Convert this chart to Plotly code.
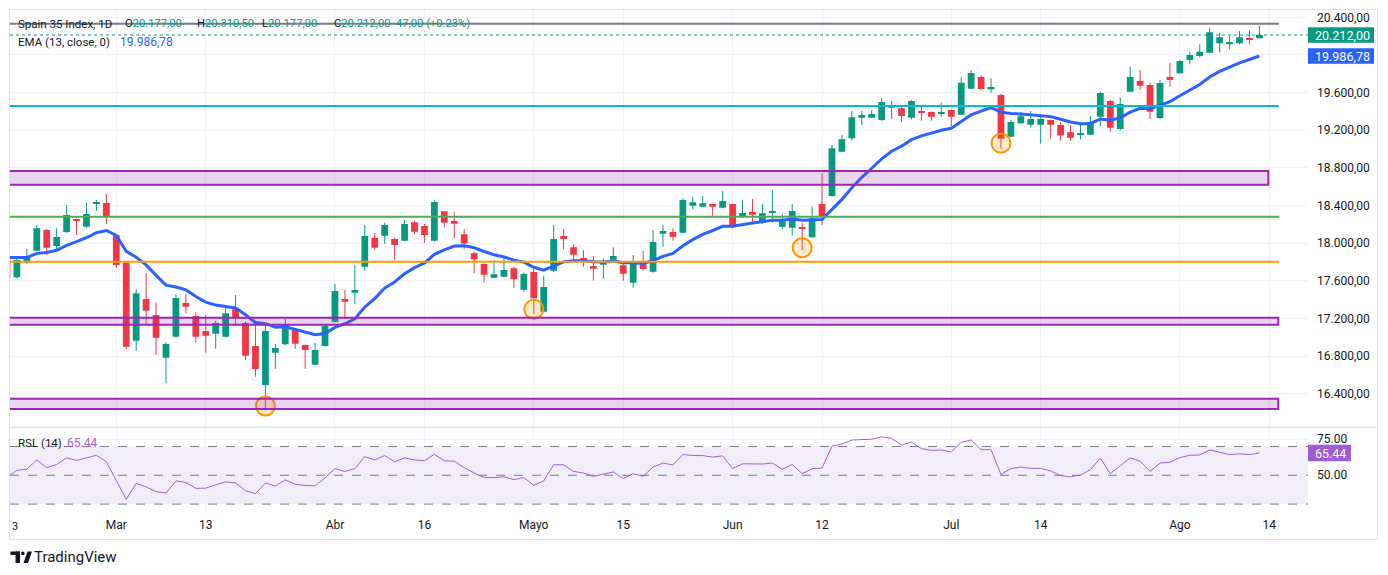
import plotly.graph_objects as go

# ---------------- data ----------------
idx = list(range(-1, 126))  # trading-day index; 10 = 2 Mar, 125 = 13 Aug
opens = [17822, 17639, 17794, 17921, 18141, 17971, 18120, 18255, 18176, 18420, 18428,
         18088, 17794, 16966, 17408, 17238, 16785, 17008, 17366, 17228, 17068,
         17040, 17008, 17299, 17153, 16909, 16495, 16838, 16927, 17079, 16920,
         16711, 16909, 17167, 17408, 17475, 17751, 18056, 18081, 18045, 18027,
         18223, 18184, 18027, 18340, 18237, 18095, 17893, 17780, 17634, 17645,
         17734, 17507, 17695, 17273, 17709, 18077, 17957, 17844, 17759, 17772,
         17826, 17766, 17581, 17808, 17698, 18102, 18120, 18112, 18399, 18388,
         18417, 18378, 18417, 18282, 18332, 18219, 18322, 18176, 18165, 18165,
         18064, 18417, 18502, 18973, 19115, 19334, 19334, 19309, 19440, 19434,
         19334, 19405, 19394, 19375, 19416, 19366, 19642, 19766, 19635, 19575,
         19132, 19274, 19260, 19260, 19309, 19256, 19178, 19152, 19153, 19344,
         19511, 19214, 19610, 19723, 19681, 19330, 19766, 19805, 19947, 19989,
         20024, 20124, 20113, 20124, 20170, 20177]
highs = [17850, 17865, 17939, 18194, 18150, 18159, 18407, 18262, 18431, 18460, 18523,
         18098, 17800, 17514, 17681, 17373, 16949, 17458, 17458, 17267, 17235,
         17175, 17316, 17451, 17167, 17143, 17151, 16930, 17196, 17090, 16925,
         16941, 17143, 17568, 17504, 17769, 18194, 18112, 18219, 18060, 18247,
         18240, 18205, 18460, 18345, 18329, 18152, 17910, 17785, 17822, 17847,
         17751, 17688, 17734, 17653, 18194, 18152, 17989, 17929, 17865, 17840,
         17957, 17804, 17876, 17918, 18141, 18194, 18159, 18478, 18495, 18502,
         18420, 18555, 18420, 18460, 18470, 18417, 18566, 18318, 18417, 18219,
         18389, 18743, 19044, 19150, 19405, 19405, 19415, 19543, 19511, 19469,
         19520, 19465, 19400, 19493, 19420, 19763, 19840, 19787, 19752, 19585,
         19309, 19397, 19405, 19362, 19315, 19288, 19256, 19267, 19352, 19610,
         19522, 19550, 19875, 19840, 19705, 19734, 19918, 19946, 20035, 20113,
         20290, 20236, 20201, 20254, 20262, 20310.5]
lows = [17600, 17628, 17783, 17915, 17876, 17929, 18110, 18088, 18165, 18346, 18205,
        17741, 16877, 16859, 17143, 16814, 16513, 17000, 17256, 16944, 16838,
        16880, 17000, 17143, 16760, 16583, 16222, 16665, 16920, 16880, 16665,
        16705, 16902, 17160, 17203, 17355, 17709, 17929, 17993, 17822, 18020,
        18098, 18006, 18017, 18170, 18053, 17939, 17681, 17581, 17630, 17640,
        17528, 17486, 17249, 17265, 17695, 17936, 17822, 17751, 17603, 17624,
        17820, 17603, 17528, 17716, 17690, 17964, 18027, 18105, 18361, 18385,
        18293, 18370, 18159, 18275, 18212, 18210, 18223, 18152, 18081, 17929,
        18055, 18194, 18495, 18970, 19090, 19256, 19330, 19300, 19320, 19291,
        19317, 19302, 19302, 19344, 19245, 19360, 19635, 19628, 19599, 19004,
        19125, 19270, 19232, 19058, 19111, 19090, 19090, 19104, 19150, 19245,
        19185, 19196, 19605, 19628, 19320, 19320, 19663, 19800, 19901, 19975,
        20018, 20024, 20060, 20113, 20113, 20177]
closes = [17631, 17822, 17865, 18159, 17953, 18067, 18300, 18245, 18311, 18430, 18282,
          17769, 16902, 17469, 17284, 16997, 16930, 17419, 17327, 17008, 17018,
          17153, 17257, 17210, 16806, 16665, 17068, 16888, 17132, 16933, 16867,
          16867, 17125, 17493, 17380, 17504, 18077, 17953, 18194, 17982, 18205,
          18123, 18088, 18438, 18219, 18208, 17999, 17830, 17666, 17671, 17716,
          17617, 17674, 17416, 17536, 18045, 18045, 17879, 17826, 17730, 17798,
          17865, 17677, 17804, 17727, 18014, 18130, 18070, 18460, 18435, 18424,
          18388, 18449, 18176, 18322, 18304, 18318, 18343, 18233, 18343, 18155,
          18265, 18282, 19009, 19104, 19338, 19362, 19373, 19500, 19462, 19352,
          19511, 19387, 19344, 19385, 19344, 19705, 19808, 19638, 19660, 19111,
          19288, 19349, 19320, 19320, 19260, 19146, 19121, 19162, 19288, 19596,
          19228, 19479, 19766, 19673, 19397, 19702, 19734, 19936, 20000, 20035,
          20241, 20188, 20138, 20188, 20165, 20212]
rsi = [48.7, 53.4, 54.3, 60.7, 55.3, 57.5, 62.1, 60.3, 62.1, 63.9, 59.4,
       46.6, 33.3, 44.3, 42.0, 38.6, 37.7, 46.1, 45.0, 40.9, 41.1,
       43.4, 45.4, 44.7, 39.3, 37.2, 44.7, 42.5, 46.8, 43.8, 42.9,
       42.7, 48.2, 54.6, 52.7, 54.6, 63.0, 60.7, 63.7, 59.4, 62.1,
       60.7, 60.1, 64.6, 60.1, 59.8, 55.3, 51.6, 48.4, 48.4, 48.9,
       47.0, 48.4, 43.1, 46.1, 57.3, 57.3, 52.7, 51.6, 49.3, 50.9,
       52.3, 47.7, 51.1, 49.3, 55.7, 58.5, 57.1, 64.4, 63.7, 63.7,
       62.6, 63.5, 54.6, 58.0, 57.8, 57.8, 58.5, 54.3, 57.5, 51.1,
       54.6, 55.0, 70.3, 71.7, 74.5, 74.9, 75.1, 76.7, 75.6, 71.0,
       73.1, 68.5, 67.4, 67.6, 66.2, 72.9, 74.5, 67.8, 67.8, 50.7,
       54.6, 55.7, 54.8, 54.8, 53.0, 49.8, 48.9, 50.2, 53.9, 61.9,
       51.1, 56.6, 62.1, 59.8, 52.7, 58.5, 59.1, 62.3, 63.9, 64.1,
       67.6, 66.0, 64.4, 64.9, 64.4, 65.44]
ema_start = 17850  # EMA(13) value on the first bar shown

tick_idx = [10, 19, 32, 41, 52, 61, 72, 81, 94, 103, 117, 126]
tick_txt = ["Mar", "13", "Abr", "16", "Mayo", "15", "Jun", "12", "Jul", "14", "Ago", "14"]
price_ticks = [16400, 16800, 17200, 17600, 18000, 18400, 18800, 19200, 19600, 20000, 20400]
rsi_ticks = [75, 50]

gray_level = 20332
cyan_level = 19458
green_level = 18282
orange_level = 17804
zones = [(18622, 18768), (17135, 17210), (16240, 16350)]
zone_end = [125.9, 126.9, 126.9]
line_end = 126.95
circle_x = [25, 52, 79, 99]
circle_y = [16272, 17299, 17953, 19062]

last_close = 20212
last_ema_txt = "19.986,78"
last_rsi_txt = "65.44"

# ---------------- layout helpers (page pixel coords; page body has 8px margin) ----------------
OFF = 8
W, H = 1388 - 2 * OFF, 575 - 2 * OFF
L, R, T, B = 10, 1308, 10, 512      # plot area in page pixels
X0 = -0.694
X1 = 129.89
PMIN, PMAX = 16045.8, 20477.5

def px(x):
    return (x - L) / (R - L)

def py(y):
    return (B - y) / (B - T)

def fmt_es(v):
    s = f"{v:,.2f}"
    return s.replace(",", "X").replace(".", ",").replace("X", ".")

UP, DN = "#089981", "#f23645"
FONT = "Roboto, Arial, sans-serif"
TXT = "#131722"

# EMA 13 from closes
ema = [ema_start]
a = 2 / 14
for c in closes[1:]:
    ema.append(ema[-1] + a * (c - ema[-1]))

fig = go.Figure()

# wicks
for col, cond in ((UP, True), (DN, False)):
    wx, wy = [], []
    for i, o, h, l, c in zip(idx, opens, highs, lows, closes):
        if (c >= o) == cond:
            wx += [i, i, None]
            wy += [l, h, None]
    fig.add_trace(go.Scatter(x=wx, y=wy, mode="lines", line=dict(color=col, width=1),
                             hoverinfo="skip", showlegend=False, xaxis="x", yaxis="y"))

# bodies
base = [min(o, c) for o, c in zip(opens, closes)]
hgt = [max(abs(c - o), 9) for o, c in zip(opens, closes)]
cols = [UP if c >= o else DN for o, c in zip(opens, closes)]
fig.add_trace(go.Bar(x=idx, y=hgt, base=base, width=0.68, marker=dict(color=cols, line=dict(width=0)),
                     hoverinfo="skip", showlegend=False, xaxis="x", yaxis="y"))

# EMA
fig.add_trace(go.Scatter(x=idx, y=ema, mode="lines", line=dict(color="#2962ff", width=3),
                         hoverinfo="skip", showlegend=False, xaxis="x", yaxis="y"))

# circles
fig.add_trace(go.Scatter(x=circle_x, y=circle_y, mode="markers",
                         marker=dict(size=19, color="rgba(255,152,0,0.2)",
                                     line=dict(color="#ff9800", width=2)),
                         hoverinfo="skip", showlegend=False, xaxis="x", yaxis="y"))

# RSI
RSI_COL = "#a35fd2"
fig.add_trace(go.Scatter(x=idx, y=rsi, mode="lines", line=dict(color=RSI_COL, width=1),
                         hoverinfo="skip", showlegend=False, xaxis="x2", yaxis="y2"))

shapes = []
shapes.append(dict(type="rect", xref="paper", yref="y2", x0=0, x1=1, y0=30, y1=70,
                   fillcolor="rgba(126,87,194,0.1)", line=dict(width=0), layer="below"))
for lv in (70, 50, 30):
    shapes.append(dict(type="line", xref="paper", yref="y2", x0=0, x1=1, y0=lv, y1=lv,
                       line=dict(color="#787b86", width=1, dash="dash")))
for lv, col, end in ((gray_level, "#787b86", line_end), (cyan_level, "#00bcd4", line_end),
                     (green_level, "#4caf50", line_end + 0.05), (orange_level, "#ff9800", line_end + 0.05)):
    shapes.append(dict(type="line", xref="x", yref="y", x0=X0, x1=end, y0=lv, y1=lv,
                       line=dict(color=col, width=2), layer="above"))
for (lo, hi), end in zip(zones, zone_end):
    shapes.append(dict(type="rect", xref="x", yref="y", x0=X0 - 1, x1=end, y0=lo, y1=hi,
                       fillcolor="rgba(156,39,176,0.2)", line=dict(color="#9c27b0", width=2),
                       layer="above"))
shapes.append(dict(type="line", xref="paper", yref="y", x0=0, x1=1, y0=last_close, y1=last_close,
                   line=dict(color=UP, width=1, dash="dot")))

def y_of_price(p):
    return T + (PMAX - p) / (PMAX - PMIN) * (427.3 - T)

yc = y_of_price(last_close)
ye = y_of_price(ema[-1])
shapes.append(dict(type="rect", xref="paper", yref="paper", x0=px(1308), x1=px(1374),
                   y0=py(yc + 7.8), y1=py(yc - 7.8), fillcolor=UP, line=dict(width=0)))
shapes.append(dict(type="rect", xref="paper", yref="paper", x0=px(1308), x1=px(1374),
                   y0=py(ye + 7.8), y1=py(ye - 7.8), fillcolor="#2962ff", line=dict(width=0)))
yr = 475.3 - (rsi[-1] - 50) * 1.44
shapes.append(dict(type="rect", xref="paper", yref="paper", x0=px(1308), x1=px(1351),
                   y0=py(yr + 8.2), y1=py(yr - 8.2), fillcolor="#a05bd0", line=dict(width=0)))
shapes.append(dict(type="rect", xref="paper", yref="paper", x0=px(9.5), x1=px(1377.5),
                   y0=py(539.5), y1=py(9.5), line=dict(color="#e0e3eb", width=1)))
shapes.append(dict(type="line", xref="paper", yref="paper", x0=px(9.5), x1=px(1377.5),
                   y0=py(427.3), y1=py(427.3), line=dict(color="#e0e3eb", width=1.5)))
# TradingView logo
shapes.append(dict(type="rect", xref="paper", yref="paper", x0=px(10.5), x1=px(20),
                   y0=py(555), y1=py(551.5), fillcolor=TXT, line=dict(width=0)))
shapes.append(dict(type="rect", xref="paper", yref="paper", x0=px(15.5), x1=px(20),
                   y0=py(563), y1=py(551.5), fillcolor=TXT, line=dict(width=0)))
shapes.append(dict(type="circle", xref="paper", yref="paper", x0=px(21), x1=px(24.6),
                   y0=py(555.2), y1=py(551.6), fillcolor=TXT, line=dict(width=0)))
shapes.append(dict(type="path", xref="paper", yref="paper",
                   path=f"M {px(23.5)} {py(563)} L {px(27.5)} {py(551.5)} L {px(32)} {py(551.5)} L {px(28)} {py(563)} Z",
                   fillcolor=TXT, line=dict(width=0)))

def ann(x, y, text, size=12, color=TXT, xanchor="left"):
    return dict(xref="paper", yref="paper", x=px(x), y=py(y), text=text, showarrow=False,
                xanchor=xanchor, yanchor="middle", font=dict(family=FONT, size=size, color=color),
                borderpad=0)

g = lambda s: f"<span style='color:{UP}'>{s}</span>"
HS = 11.2
annotations = [
    ann(17, 24, "Spain 35 Index, 1D", size=11.5),
    ann(124, 24, "O" + g("20.177,00"), size=HS),
    ann(196, 24, "H" + g("20.310,50"), size=HS),
    ann(261, 24, "L" + g("20.177,00"), size=HS),
    ann(333, 24, "C" + g("20.212,00"), size=HS),
    ann(395, 24, g("47,00 (+0.23%)"), size=HS),
    ann(17, 42, "EMA (13, close, 0)", size=11.5),
    ann(119, 42, last_ema_txt, color="#2962ff"),
    ann(17, 443, "RSL (14)", size=11.5),
    ann(66, 443, last_rsi_txt, color=RSI_COL),
    ann(1342, yc, fmt_es(last_close), size=12.5, color="white", xanchor="center"),
    ann(1342, ye, last_ema_txt, size=12.5, color="white", xanchor="center"),
    ann(1330, yr, last_rsi_txt, size=12.5, color="white", xanchor="center"),
    ann(33, 557, "TradingView", size=15),
    ann(11, 526, "3", size=11, xanchor="left"),
]

price_txt = [fmt_es(v) if v != 20000 else "" for v in price_ticks]

fig.update_layout(
    width=W, height=H,
    margin=dict(l=L - OFF, r=W - (R - OFF), t=T - OFF, b=H - (B - OFF)),
    paper_bgcolor="white", plot_bgcolor="white", barmode="overlay", showlegend=False,
    hovermode=False,
    xaxis=dict(domain=[0, 1], anchor="y", range=[X0, X1], tickvals=tick_idx, ticktext=tick_txt,
               showticklabels=False, showgrid=True, gridcolor="#f0f3fa", zeroline=False,
               showline=False, ticks=""),
    xaxis2=dict(domain=[0, 1], anchor="y2", matches="x", range=[X0, X1], tickvals=tick_idx,
                ticktext=tick_txt, showgrid=True, gridcolor="#f0f3fa", zeroline=False,
                showline=False, ticks="", tickfont=dict(family=FONT, size=12, color=TXT),
                ticklabelstandoff=4),
    yaxis=dict(domain=[py(427.3), 1], anchor="x", side="right", range=[PMIN, PMAX],
               tickvals=price_ticks, ticktext=price_txt, showgrid=True, gridcolor="#f0f3fa",
               zeroline=False, showline=False, ticks="",
               tickfont=dict(family=FONT, size=12, color=TXT), ticklabelstandoff=8),
    yaxis2=dict(domain=[0, py(427.3)], anchor="x2", side="right", range=[24.5, 83.33],
                tickvals=rsi_ticks, ticktext=["75.00", "50.00"], showgrid=True,
                gridcolor="#f0f3fa", zeroline=False, showline=False, ticks="",
                tickfont=dict(family=FONT, size=12, color=TXT), ticklabelstandoff=8),
    shapes=shapes, annotations=annotations,
)

fig.write_html("out.html")
